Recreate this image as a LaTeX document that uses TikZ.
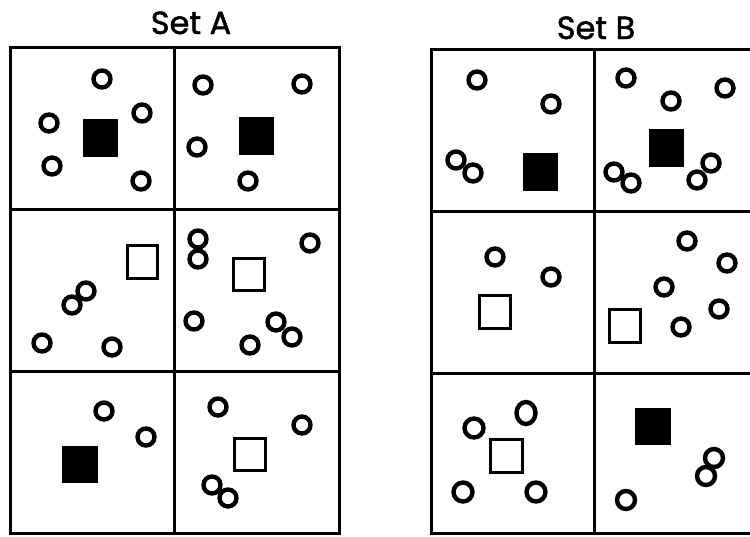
\documentclass[tikz,border=0pt]{standalone}
\usepackage{fontspec}
\newfontfamily\titlefont[FakeBold=1.5]{Poppins}
\begin{document}
\begin{tikzpicture}[x=1pt,y=-1pt,
  frame/.style={line width=3pt},
  ring/.style={line width=4.4pt},
  solidsq/.style={fill=black},
  opensq/.style={line width=3pt},
  ttl/.style={font=\titlefont\fontsize{32}{36}\selectfont, anchor=base, inner sep=0pt}]
\useasboundingbox (0,0) rectangle (750,536);
\clip (0,0) rectangle (750,536);
% titles
\node[ttl] (tA) at (191,34) {Set A};
\node[ttl] (tB) at (596,39) {Set B};
% Set A frame
\draw[frame] (10,47) rectangle (339,533);
\draw[frame] (174,47) -- (174,533);
\draw[frame] (10,209) -- (339,209);
\draw[frame] (10,371) -- (339,371);
% Set B frame
\draw[frame] (431,49) rectangle (765,533);
\draw[frame] (594,49) -- (594,533);
\draw[frame] (431,211) -- (765,211);
\draw[frame] (431,373) -- (765,373);
% Set A r1c1
\foreach \p in {(102,79),(142,113),(49,123),(52,166),(141,181)} \draw[ring] \p circle (8.5);
\fill[solidsq] (83,119) rectangle (118,157);
% Set A r1c2
\foreach \p in {(203,85),(302,84),(197,147),(248,181)} \draw[ring] \p circle (8.5);
\fill[solidsq] (239,117) rectangle (274,155);
% Set A r2c1
\draw[opensq] (127.5,245.5) rectangle (157.5,278.5);
\foreach \p in {(86,291),(72,305),(42,343),(112,347)} \draw[ring] \p circle (8.5);
% Set A r2c2
\foreach \p in {(198,239),(198,259),(310,243),(194,321),(276,322),(292,337),(250,345)} \draw[ring] \p circle (8.5);
\draw[opensq] (233.5,258.5) rectangle (264.5,290.5);
% Set A r3c1
\foreach \p in {(104,411),(146,437)} \draw[ring] \p circle (8.5);
\fill[solidsq] (62,446) rectangle (98,483);
% Set A r3c2
\foreach \p in {(218,407),(302,425),(212,485),(228,498)} \draw[ring] \p circle (8.5);
\draw[opensq] (234.5,438.5) rectangle (265.5,470.5);
% Set B r1c1
\foreach \p in {(477,80),(551,104),(456,160),(473,173)} \draw[ring] \p circle (8.5);
\fill[solidsq] (523,153) rectangle (558,191);
% Set B r1c2
\foreach \p in {(626,78),(671,101),(725,88),(614,172),(631,183),(697,180),(711,163)} \draw[ring] \p circle (8.5);
\fill[solidsq] (649,129) rectangle (684,167);
% Set B r2c1
\foreach \p in {(495,257),(551,277)} \draw[ring] \p circle (8.5);
\draw[opensq] (479.5,295.5) rectangle (510.5,328.5);
% Set B r2c2
\foreach \p in {(687,241),(727,263),(664,287),(719,309),(681,327)} \draw[ring] \p circle (8.5);
\draw[opensq] (609.5,309.5) rectangle (640.5,342.5);
% Set B r3c1
\foreach \p in {(474,428),(463,492),(536,492)} \draw[ring] \p circle (9.5);
\draw[ring] (526,413) ellipse (9.5 and 11);
\draw[opensq] (490.5,439.5) rectangle (522.5,472.5);
% Set B r3c2
\fill[solidsq] (635,408) rectangle (671,445);
\foreach \p in {(714,458),(706,476),(626,500)} \draw[ring] \p circle (9);
\end{tikzpicture}
\end{document}
